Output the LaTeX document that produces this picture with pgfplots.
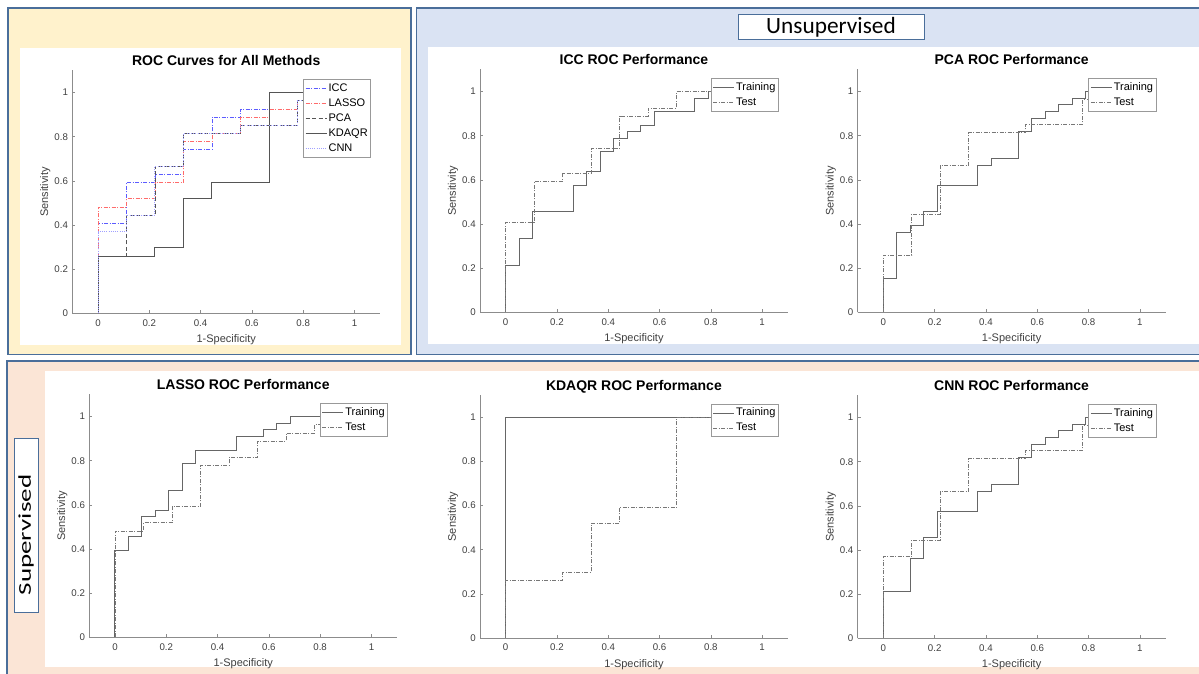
\documentclass[border=0pt]{standalone}
\usepackage{pgfplots}
\pgfplotsset{compat=1.18}
\usepackage{pgfplotstable}
\usepackage{fontspec}
\setmainfont{Liberation Sans}
\newfontfamily\carlito{Carlito}

\definecolor{panelY}{HTML}{FFF2CC}
\definecolor{panelB}{HTML}{DAE3F3}
\definecolor{panelP}{HTML}{FBE5D6}
\definecolor{frameB}{HTML}{4A6E9A}
\definecolor{axgray}{HTML}{8C8C8C}
\definecolor{tkgray}{HTML}{404040}
\definecolor{lgframe}{HTML}{999999}
\definecolor{trainc}{HTML}{666666}
\definecolor{testc}{HTML}{777777}
\definecolor{iccc}{HTML}{5C5CFF}
\definecolor{lassoc}{HTML}{FF6B6B}
\definecolor{pcac}{HTML}{555555}
\definecolor{kdc}{HTML}{555555}
\definecolor{cnnc}{HTML}{A0A0FF}

% ---------------- data ----------------
\pgfplotstableread{
x y
0 0
0 0.2121
0.0526 0.2121
0.0526 0.3333
0.1053 0.3333
0.1053 0.4545
0.2632 0.4545
0.2632 0.5758
0.3158 0.5758
0.3158 0.6364
0.3684 0.6364
0.3684 0.7273
0.4211 0.7273
0.4211 0.7879
0.4737 0.7879
0.4737 0.8182
0.5263 0.8182
0.5263 0.8485
0.5789 0.8485
0.5789 0.9091
0.7368 0.9091
0.7368 0.9697
0.7895 0.9697
0.7895 1
1 1
}\icctrain
\pgfplotstableread{
x y
0 0
0 0.4074
0.1111 0.4074
0.1111 0.5926
0.2222 0.5926
0.2222 0.6296
0.3333 0.6296
0.3333 0.7407
0.4444 0.7407
0.4444 0.8889
0.5556 0.8889
0.5556 0.9259
0.6667 0.9259
0.6667 1
1 1
}\icctest
\pgfplotstableread{
x y
0 0
0 0.1515
0.0526 0.1515
0.0526 0.3636
0.1053 0.3636
0.1053 0.3939
0.1579 0.3939
0.1579 0.4545
0.2105 0.4545
0.2105 0.5758
0.3684 0.5758
0.3684 0.6667
0.4211 0.6667
0.4211 0.6970
0.5263 0.6970
0.5263 0.8182
0.5789 0.8182
0.5789 0.8788
0.6316 0.8788
0.6316 0.9091
0.6842 0.9091
0.6842 0.9394
0.7368 0.9394
0.7368 0.9697
0.7895 0.9697
0.7895 1
1 1
}\pcatrain
\pgfplotstableread{
x y
0 0
0 0.2593
0.1111 0.2593
0.1111 0.4444
0.2222 0.4444
0.2222 0.6667
0.3333 0.6667
0.3333 0.8148
0.5556 0.8148
0.5556 0.8519
0.7778 0.8519
0.7778 0.9630
0.8889 0.9630
0.8889 1
1 1
}\pcatest
\pgfplotstableread{
x y
0 0
0 0.2121
0.1053 0.2121
0.1053 0.3636
0.1579 0.3636
0.1579 0.4545
0.2105 0.4545
0.2105 0.5758
0.3684 0.5758
0.3684 0.6667
0.4211 0.6667
0.4211 0.6970
0.5263 0.6970
0.5263 0.8182
0.5789 0.8182
0.5789 0.8788
0.6316 0.8788
0.6316 0.9091
0.6842 0.9091
0.6842 0.9394
0.7368 0.9394
0.7368 0.9697
0.7895 0.9697
0.7895 1
1 1
}\cnntrain
\pgfplotstableread{
x y
0 0
0 0.3704
0.1111 0.3704
0.1111 0.4444
0.2222 0.4444
0.2222 0.6667
0.3333 0.6667
0.3333 0.8148
0.5556 0.8148
0.5556 0.8519
0.7778 0.8519
0.7778 0.9630
0.8889 0.9630
0.8889 1
1 1
}\cnntest
\pgfplotstableread{
x y
0 0
0 0.3939
0.0526 0.3939
0.0526 0.4545
0.1053 0.4545
0.1053 0.5455
0.1579 0.5455
0.1579 0.5758
0.2105 0.5758
0.2105 0.6667
0.2632 0.6667
0.2632 0.7879
0.3158 0.7879
0.3158 0.8485
0.4737 0.8485
0.4737 0.9091
0.5789 0.9091
0.5789 0.9394
0.6316 0.9394
0.6316 0.9697
0.6842 0.9697
0.6842 1
1 1
}\lassotrain
\pgfplotstableread{
x y
0 0
0 0.4815
0.1111 0.4815
0.1111 0.5185
0.2222 0.5185
0.2222 0.5926
0.3333 0.5926
0.3333 0.7778
0.4444 0.7778
0.4444 0.8148
0.5556 0.8148
0.5556 0.8889
0.6667 0.8889
0.6667 0.9259
0.7778 0.9259
0.7778 0.9630
0.8889 0.9630
0.8889 1
1 1
}\lassotest
\pgfplotstableread{
x y
0 0
0 1
1 1
}\kdtrain
\pgfplotstableread{
x y
0 0
0 0.2593
0.2222 0.2593
0.2222 0.2963
0.3333 0.2963
0.3333 0.5185
0.4444 0.5185
0.4444 0.5926
0.6667 0.5926
0.6667 1
1 1
}\kdtest

\pgfplotsset{
  rocax/.style={
    scale only axis, width=307.8pt, height=242.8pt,
    anchor=south west,
    xmin=-0.1, xmax=1.1, ymin=0, ymax=1.1,
    axis x line=bottom, axis y line=left,
    axis line style={-, draw=axgray, line width=0.8pt},
    xtick={0,0.2,0.4,0.6,0.8,1}, ytick={0,0.2,0.4,0.6,0.8,1},
    tick align=inside, major tick length=3pt,
    tick style={draw=axgray, line width=0.6pt},
    /pgf/number format/assume math mode=true,
    ticklabel style={font=\fontsize{9.7}{11}\selectfont, text=tkgray},
    xticklabel style={yshift=-2.5pt},
    yticklabel style={xshift=-0.8pt},
    xlabel={1-Specificity}, ylabel={Sensitivity},
    label style={font=\fontsize{11}{12}\selectfont, text=tkgray, inner sep=0pt},
    xlabel style={at={(axis description cs:0.5,-0.088)}, anchor=north},
    ylabel style={at={(axis description cs:-0.0702,0.5)}, anchor=south},
    every axis title shift=0pt,
    title style={at={(axis description cs:0.5,1.02)}, anchor=base,
      font=\bfseries\fontsize{14}{15}\selectfont, inner sep=0pt},
    legend style={at={(axis description cs:1,1)}, anchor=north east,
      xshift=-9pt, yshift=-9pt, draw=lgframe, line width=0.8pt, fill=white,
      inner xsep=1.5pt, inner ysep=1.8pt, row sep=1.5pt,
      font=\fontsize{11}{12}\selectfont,
      nodes={inner sep=1.5pt, text height=8pt, text depth=2.5pt}},
    legend cell align=left,
    legend image code/.code={\draw[##1] (0pt,0pt) -- (21pt,0pt);},
  },
  trainst/.style={draw=trainc, line width=1pt, solid},
  testst/.style={draw=testc, line width=0.75pt, dash pattern=on 4pt off 1.5pt on 1pt off 1.5pt},
}

\begin{document}
\begin{tikzpicture}[x=1pt,y=1pt]
\useasboundingbox (0,0) rectangle (1199,674);
\fill[white] (0,0) rectangle (1199,674);
% panels
\fill[panelY] (8,319.5) rectangle (411,666);
\draw[frameB, line width=1.4pt] (8,319.5) rectangle (411,666);
\fill[panelB] (416.7,319.5) rectangle (1199,666);
\draw[frameB, line width=1.4pt] (1199,666) -- (416.7,666) -- (416.7,319.5) -- (1199,319.5);
\fill[panelP] (7,0) rectangle (1199,313);
\draw[frameB, line width=1.4pt] (7,0) -- (7,313) -- (1199,313);
% white figure areas
\fill[white] (20,329) rectangle (401,626);
\fill[white] (428.3,330) rectangle (1199,626.7);
\fill[white] (45,7) rectangle (1199,303);
% group labels
\filldraw[fill=white, draw=frameB, line width=1pt] (738.3,634) rectangle (924,659.7);
\node[font=\carlito\fontsize{23.3}{26}\selectfont, inner sep=0pt] at (831,646.5) {Unsupervised};
\filldraw[fill=white, draw=frameB, line width=1pt] (14,61.3) rectangle (38.7,235.7);
\node[font=\carlito\fontsize{18}{20}\selectfont, inner sep=0pt, rotate=90, xscale=1.5] at (26,139) {Supervised};

% ---- All methods ----
\begin{axis}[rocax, at={(72.3pt,360.7pt)}, title={ROC Curves for All Methods}]
\addplot[draw=iccc, line width=0.75pt, dash pattern=on 4pt off 1.5pt on 1pt off 1.5pt] table {\icctest};
\addlegendentry{ICC}
\addplot[draw=lassoc, line width=0.75pt, dash pattern=on 4pt off 1.5pt on 1pt off 1.5pt] table {\lassotest};
\addlegendentry{LASSO}
\addplot[draw=pcac, line width=0.75pt, dash pattern=on 4pt off 2.5pt] table {\pcatest};
\addlegendentry{PCA}
\addplot[draw=kdc, line width=0.9pt, solid] table {\kdtest};
\addlegendentry{KDAQR}
\addplot[draw=cnnc, line width=0.9pt, dash pattern=on 1pt off 1.2pt] table {\cnntest};
\addlegendentry{CNN}
\end{axis}

% ---- ICC ----
\begin{axis}[rocax, at={(480pt,361.7pt)}, title={ICC ROC Performance}]
\addplot[trainst] table {\icctrain};
\addlegendentry{Training}
\addplot[testst] table {\icctest};
\addlegendentry{Test}
\end{axis}

% ---- PCA ----
\begin{axis}[rocax, at={(857.7pt,361.7pt)}, title={PCA ROC Performance}]
\addplot[trainst] table {\pcatrain};
\addlegendentry{Training}
\addplot[testst] table {\pcatest};
\addlegendentry{Test}
\end{axis}

% ---- LASSO ----
\begin{axis}[rocax, at={(89.3pt,36.7pt)}, title={LASSO ROC Performance}]
\addplot[trainst] table {\lassotrain};
\addlegendentry{Training}
\addplot[testst] table {\lassotest};
\addlegendentry{Test}
\end{axis}

% ---- KDAQR ----
\begin{axis}[rocax, at={(480pt,36pt)}, title={KDAQR ROC Performance}]
\addplot[trainst] table {\kdtrain};
\addlegendentry{Training}
\addplot[testst] table {\kdtest};
\addlegendentry{Test}
\end{axis}

% ---- CNN ----
\begin{axis}[rocax, at={(857.7pt,35.7pt)}, title={CNN ROC Performance}]
\addplot[trainst] table {\cnntrain};
\addlegendentry{Training}
\addplot[testst] table {\cnntest};
\addlegendentry{Test}
\end{axis}
\end{tikzpicture}
\end{document}
